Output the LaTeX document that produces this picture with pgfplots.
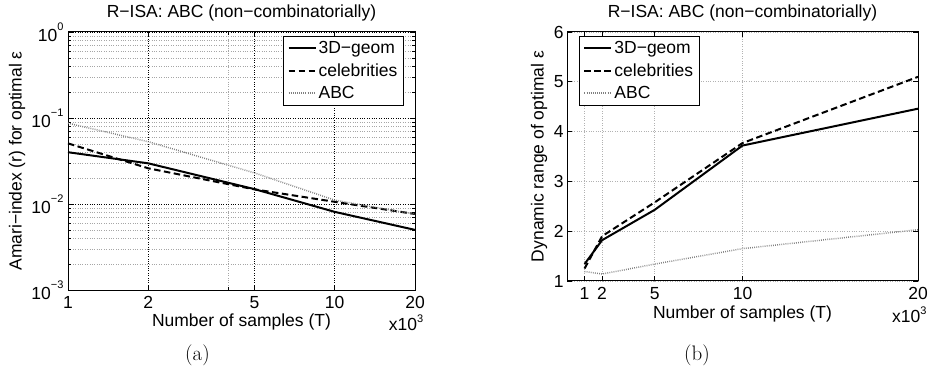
\documentclass[border=0pt]{standalone}
\usepackage{fontspec}
\usepackage{pgfplots}
\pgfplotsset{compat=1.18}
\newfontfamily\hv{Liberation Sans}
\newcommand\F{\hv\fontsize{17.5bp}{20bp}\selectfont}
\newcommand\sups[2][0.62em]{\raisebox{#1}{\hv\fontsize{11bp}{12bp}\selectfont #2}}
\pgfplotsset{
 mat/.style={
  scale only axis, axis line style={line width=1bp},
  tick style={line width=0.7bp, black}, major tick length=5bp, minor tick length=3bp,
  tick align=inside, clip=false,
  every tick label/.append style={font=\F},
  xticklabel style={yshift=-3bp},
  label style={font=\F}, title style={font=\F},
  every axis title shift=0pt,
  /pgf/number format/assume math mode=true,
  legend style={font=\F, draw=black, line width=1bp, inner xsep=4bp, inner ysep=3bp, row sep=4.5bp, cells={anchor=west}},
  legend cell align=left,
  legend image code/.code={\draw[##1] (0bp,0bp) -- (27bp,0bp);},
 },
 s3d/.style={black, line width=2bp},
 scel/.style={black, line width=2bp, dash pattern=on 6.5bp off 3.5bp},
 sabc/.style={gray, line width=1.5bp, dash pattern=on 0.8bp off 1.3bp},
}
\begin{document}
\begin{tikzpicture}
\path[use as bounding box] (0,0) rectangle (928bp,372bp);
% ---------- (a) ----------
\begin{axis}[mat,
  at={(68bp,82bp)}, anchor=south west, width=347bp, height=258bp,
  xmode=log, ymode=log, xmin=1, xmax=20, ymin=1e-3, ymax=1,
  xtick={1,2,5,10,20}, xticklabels={1,2,5,10,20}, minor xtick={4},
  ytick={1e-3,1e-2,1e-1,1},
  yticklabels={10\sups{−3},10\sups{−2},10\sups{−1},10\sups{0}},
  yticklabel style={xshift=-1bp},
  minor ytick={2e-3,3e-3,4e-3,5e-3,6e-3,7e-3,8e-3,9e-3,2e-2,3e-2,4e-2,5e-2,6e-2,7e-2,8e-2,9e-2,2e-1,3e-1,4e-1,5e-1,6e-1,7e-1,8e-1,9e-1},
  xmajorgrids, ymajorgrids, xminorgrids, yminorgrids,
  major grid style={black, dotted, line width=0.6bp},
  minor grid style={gray!70, dotted, line width=0.5bp},
  title={R−ISA: ABC (non−combinatorially)},
  title style={at={(axis description cs:0.5,1.0736)}, anchor=center},
  xlabel={Number of samples (T)},
  xlabel style={at={(axis description cs:0.5,-0.124)}, anchor=center},
  ylabel={Amari−index (r) for optimal ε},
  ylabel style={at={(axis description cs:-0.147,0.5)}, anchor=center},
  legend style={at={(axis description cs:0.968,0.9845)}, anchor=north east},
]
\addplot[s3d] coordinates {(1,0.040) (2,0.0297) (5,0.0149) (10,0.0081) (20,0.0050)};
\addlegendentry{3D−geom}
\addplot[scel] coordinates {(1,0.0507) (2,0.026) (5,0.0148) (10,0.0106) (20,0.00765)};
\addlegendentry{celebrities}
\addplot[sabc] coordinates {(1,0.087) (2,0.053) (5,0.023) (10,0.0111) (20,0.0076)};
\addlegendentry{ABC}
\node[font=\F, anchor=base, inner sep=0pt] at (axis description cs:0.974,-0.157) {x10\sups[0.45em]{3}};
\end{axis}
% ---------- (b) ----------
\begin{axis}[mat,
  at={(567bp,91bp)}, anchor=south west, width=351bp, height=249bp,
  xmin=0, xmax=20, ymin=1, ymax=6,
  xtick={1,2,5,10,20}, xticklabels={1,2,5,10,20},
  ytick={1,2,3,4,5,6}, yticklabels={1,2,3,4,5,6},
  xmajorgrids, ymajorgrids,
  major grid style={gray!60, dotted, line width=0.6bp},
  title={R−ISA: ABC (non−combinatorially)},
  title style={at={(axis description cs:0.5,1.0763)}, anchor=center},
  xlabel={Number of samples (T)},
  xlabel style={at={(axis description cs:0.5,-0.1325)}, anchor=center},
  ylabel={Dynamic range of optimal ε},
  ylabel style={at={(axis description cs:-0.0798,0.5)}, anchor=center},
  legend style={at={(axis description cs:0.034,0.984)}, anchor=north west},
]
\addplot[s3d] coordinates {(1,1.34) (2,1.82) (5,2.43) (10,3.72) (20,4.46)};
\addlegendentry{3D−geom}
\addplot[scel] coordinates {(1,1.25) (2,1.90) (5,2.58) (10,3.77) (20,5.10)};
\addlegendentry{celebrities}
\addplot[sabc] coordinates {(1,1.19) (2,1.14) (5,1.34) (10,1.65) (20,2.03)};
\addlegendentry{ABC}
\node[font=\F, anchor=base west, inner sep=0pt] at (axis description cs:0.926,-0.167) {x10\sups[0.45em]{3}};
\end{axis}
\node[font=\fontsize{21bp}{24bp}\selectfont] at (197.5bp,17bp) {(a)};
\node[font=\fontsize{21bp}{24bp}\selectfont] at (697bp,17bp) {(b)};
\end{tikzpicture}
\end{document}
